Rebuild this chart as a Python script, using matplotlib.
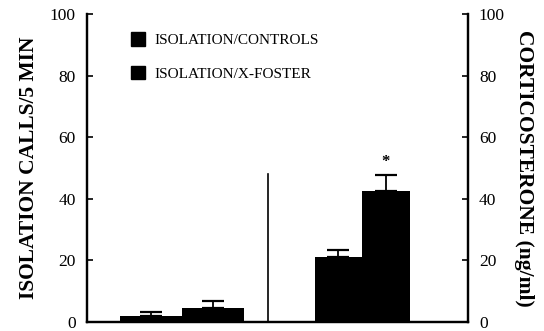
import numpy as np
import matplotlib.pyplot as plt
from matplotlib.patches import Patch

plt.rcParams['font.family'] = ['Liberation Serif', 'DejaVu Serif']

# bar data: isolation calls (left) and corticosterone (right)
groups = ['ISOLATION/CONTROLS', 'ISOLATION/X-FOSTER']
calls_mean = [2.0, 4.5]
calls_err = [1.3, 2.4]
cort_mean = [21.0, 42.5]
cort_err = [2.3, 5.3]
calls_x = [1.68, 3.3]
cort_x = [6.6, 7.85]

fig = plt.figure(figsize=(5.44, 3.31), dpi=100)
ax = fig.add_axes([0.16, 0.027, 0.70, 0.931])

ax.bar(calls_x, calls_mean, width=1.62, color='black')
ax.errorbar(calls_x, np.array(calls_mean), yerr=[np.zeros(2), calls_err],
            fmt='none', ecolor='black', elinewidth=1.3, capsize=8, capthick=1.6)

ax2 = ax.twinx()
ax2.bar(cort_x, cort_mean, width=1.25, color='black')
ax2.errorbar(cort_x, np.array(cort_mean), yerr=[np.zeros(2), cort_err],
             fmt='none', ecolor='black', elinewidth=1.3, capsize=8, capthick=1.6)
ax2.text(cort_x[1], cort_mean[1] + cort_err[1] + 1.5, '*', ha='center', va='bottom',
         fontsize=12, fontweight='bold')

# divider between the two panels
ax.plot([4.74, 4.74], [0, 48], color='black', lw=1.2)

for a in (ax, ax2):
    a.set_xlim(0, 10)
    a.set_ylim(0, 100)
    a.set_yticks([0, 20, 40, 60, 80, 100])
    a.spines['top'].set_visible(False)
    a.tick_params(axis='y', direction='in', length=4, width=1.2, labelsize=12.5, pad=8)
    for s in ('left', 'right', 'bottom'):
        a.spines[s].set_linewidth(1.6)
ax.set_xticks([])
ax2.set_xticks([])

ax.set_ylabel('ISOLATION CALLS/5 MIN', fontsize=15.5, fontweight='bold', labelpad=8)
ax2.set_ylabel('CORTICOSTERONE (ng/ml)', fontsize=15.5, fontweight='bold',
               rotation=-90, labelpad=21)

handles = [Patch(facecolor='black', edgecolor='black', label=g) for g in groups]
ax.legend(handles=handles, loc='upper left', bbox_to_anchor=(0.08, 0.985), frameon=False,
          fontsize=11, handlelength=0.9, handleheight=1.0, handletextpad=0.6,
          labelspacing=1.2)

plt.savefig('out.png', dpi=100)
